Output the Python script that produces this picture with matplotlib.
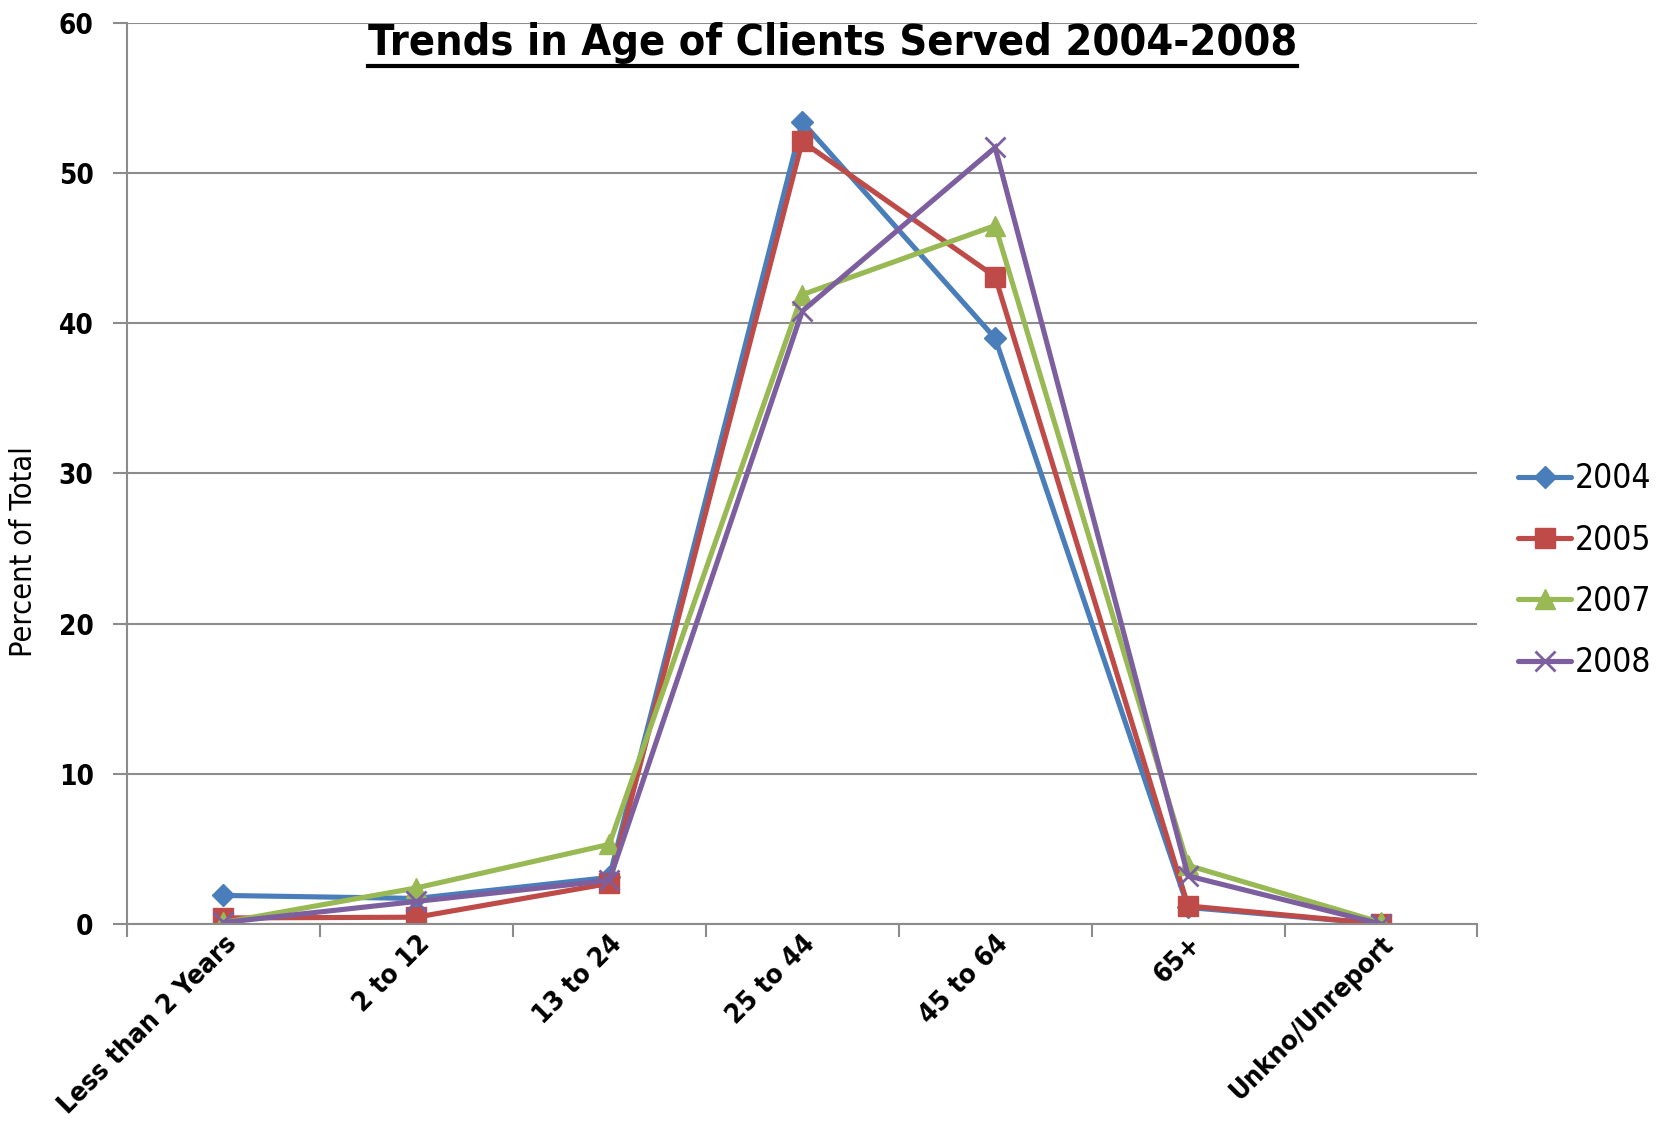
import numpy as np
import matplotlib
matplotlib.use("Agg")
import matplotlib.pyplot as plt
from matplotlib.ticker import FixedLocator

plt.rcParams['font.family'] = ['DejaVu Sans']
plt.rcParams['font.stretch'] = 'condensed'

# Data
categories = ["Less than 2 Years", "2 to 12", "13 to 24", "25 to 44", "45 to 64", "65+", "Unkno/Unreport"]
years = ["2004", "2005", "2007", "2008"]
v2004 = [1.9, 1.7, 3.1, 53.4, 39.0, 1.1, 0.0]
v2005 = [0.4, 0.45, 2.7, 52.1, 43.1, 1.2, 0.0]
v2007 = [0.1, 2.4, 5.3, 41.9, 46.5, 3.9, 0.1]
v2008 = [0.1, 1.5, 2.9, 40.8, 51.7, 3.2, 0.0]

series = [v2004, v2005, v2007, v2008]
colors = ["#4a7ebb", "#be4b48", "#98b954", "#7d5fa0"]
markers = ["D", "s", "^", "x"]
msizes = [11, 14, 14, 15]

fig = plt.figure(figsize=(16.58, 11.25), dpi=100)
ax = fig.add_axes([0.0766, 0.1787, 0.8145, 0.801])

x = np.arange(len(categories))
for vals, name, c, m, ms in zip(series, years, colors, markers, msizes):
    ax.plot(x, vals, color=c, marker=m, markersize=ms, linewidth=3.7,
            markeredgewidth=2 if m == "x" else 1, markeredgecolor=c,
            label=name, solid_capstyle='round', solid_joinstyle='miter')

ax.set_xlim(-0.5, len(categories) - 0.5)
ax.set_ylim(0, 60)
ax.set_yticks(range(0, 61, 10))
ax.yaxis.grid(True, color="#8c8c8c", linewidth=1.5)
ax.set_axisbelow(True)

# category labels centered, tick marks between categories
ax.set_xticks(x)
ax.set_xticklabels(categories, rotation=45, ha='right', rotation_mode='anchor',
                   fontsize=19.5, fontweight='bold')
ax.xaxis.set_minor_locator(FixedLocator(np.arange(-0.5, len(categories), 1)))
ax.tick_params(axis='x', which='major', length=0, pad=5)
ax.tick_params(axis='x', which='minor', length=9, width=1.5, color="#8c8c8c", direction='out')
ax.tick_params(axis='y', length=10, width=1.5, color="#8c8c8c", labelsize=20, pad=14)
for lab in ax.get_yticklabels():
    lab.set_fontweight('bold')

for s in ['top', 'right']:
    ax.spines[s].set_visible(False)
for s in ['left', 'bottom']:
    ax.spines[s].set_color("#8c8c8c")
    ax.spines[s].set_linewidth(1.5)

ax.set_ylabel("Percent of Total", fontsize=22)
ax.yaxis.set_label_coords(-0.066, 0.413)

fig.text(0.502, 0.962, "Trends in Age of Clients Served 2004-2008", ha='center', va='center',
         fontsize=31, fontweight='bold')
# underline for the title
t = fig.texts[-1]
fig.canvas.draw()
bb = t.get_window_extent().transformed(fig.transFigure.inverted())
fig.add_artist(plt.Line2D([bb.x0, bb.x1], [bb.y0 - 0.002, bb.y0 - 0.002], color='black',
                          linewidth=3, transform=fig.transFigure))

ax.legend(loc='center left', bbox_to_anchor=(1.03, 0.392), frameon=False, fontsize=24,
          handlelength=1.6, handletextpad=0.1, labelspacing=0.85, borderpad=0,
          borderaxespad=0)

fig.savefig("out.png", dpi=100)
